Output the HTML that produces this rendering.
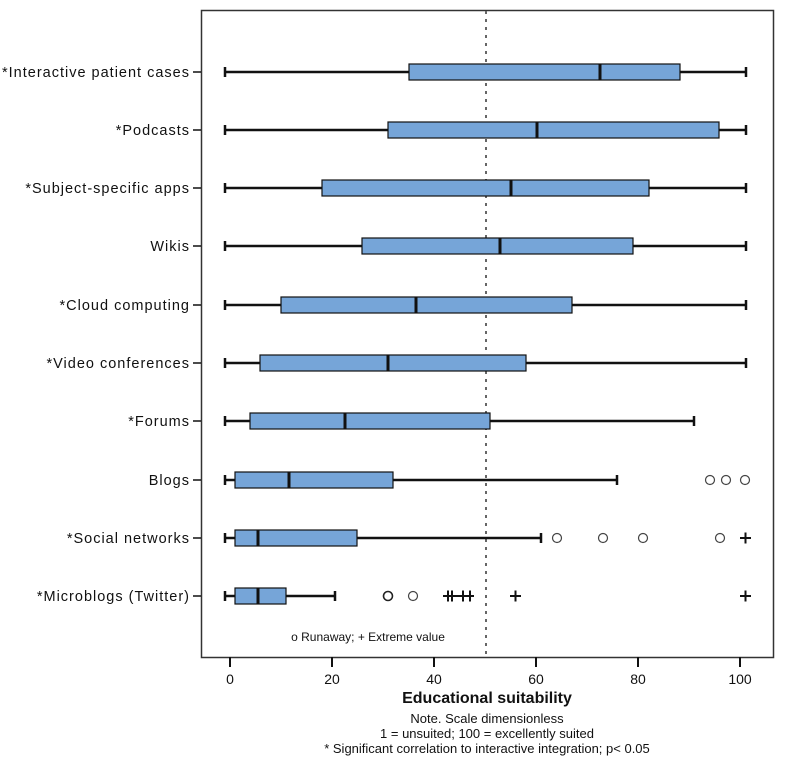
<!DOCTYPE html>
<html><head><meta charset="utf-8"><style>body{margin:0;background:#fff}</style></head><body>
<svg width="793" height="772" xmlns="http://www.w3.org/2000/svg" font-family="Liberation Sans, sans-serif">
<rect x="0" y="0" width="793" height="772" fill="#fff"/>
<rect x="201.5" y="10.5" width="572" height="647" fill="none" stroke="#333" stroke-width="1.5"/>
<line x1="486" y1="11" x2="486" y2="657" stroke="#666" stroke-width="2" stroke-dasharray="3,5"/>
<g stroke="#111" stroke-width="2">
<line x1="230" y1="657" x2="230" y2="667"/><line x1="332" y1="657" x2="332" y2="667"/><line x1="434" y1="657" x2="434" y2="667"/><line x1="536" y1="657" x2="536" y2="667"/><line x1="638" y1="657" x2="638" y2="667"/><line x1="740" y1="657" x2="740" y2="667"/>
</g>
<g font-size="14" fill="#111" text-anchor="middle">
<text x="230" y="684">0</text><text x="332" y="684">20</text><text x="434" y="684">40</text><text x="536" y="684">60</text><text x="638" y="684">80</text><text x="740" y="684">100</text>
</g>
<text x="487" y="703" font-size="16" font-weight="bold" text-anchor="middle" fill="#111">Educational suitability</text>
<g font-size="13" fill="#111" text-anchor="middle">
<text x="487" y="723">Note. Scale dimensionless</text>
<text x="487" y="738">1 = unsuited; 100 = excellently suited</text>
<text x="487" y="753">* Significant correlation to interactive integration; p&lt; 0.05</text>
</g>
<text x="368" y="641" font-size="12" text-anchor="middle" fill="#111">o Runaway; + Extreme value</text>
<g font-size="14.5" fill="#111" text-anchor="end" letter-spacing="1">
<text x="190" y="77">*Interactive patient cases</text>
<text x="190" y="135">*Podcasts</text>
<text x="190" y="193">*Subject-specific apps</text>
<text x="190" y="251">Wikis</text>
<text x="190" y="310">*Cloud computing</text>
<text x="190" y="368">*Video conferences</text>
<text x="190" y="426">*Forums</text>
<text x="190" y="485">Blogs</text>
<text x="190" y="543">*Social networks</text>
<text x="190" y="601">*Microblogs (Twitter)</text>
</g>
<g stroke="#111" stroke-width="1.5">
<line x1="193" y1="72" x2="201" y2="72"/><line x1="193" y1="130" x2="201" y2="130"/><line x1="193" y1="188" x2="201" y2="188"/><line x1="193" y1="246" x2="201" y2="246"/><line x1="193" y1="305" x2="201" y2="305"/><line x1="193" y1="363" x2="201" y2="363"/><line x1="193" y1="421" x2="201" y2="421"/><line x1="193" y1="480" x2="201" y2="480"/><line x1="193" y1="538" x2="201" y2="538"/><line x1="193" y1="596" x2="201" y2="596"/>
</g>
<g stroke="#111">
<g stroke-width="2.5"><line x1="225" y1="72" x2="746" y2="72"/><line x1="225" y1="67" x2="225" y2="77"/><line x1="746" y1="67" x2="746" y2="77"/></g>
<rect x="409" y="64" width="271" height="16" fill="#76a5d8" stroke-width="1.2"/><line x1="600" y1="64" x2="600" y2="80" stroke-width="3"/>
<g stroke-width="2.5"><line x1="225" y1="130" x2="746" y2="130"/><line x1="225" y1="125" x2="225" y2="135"/><line x1="746" y1="125" x2="746" y2="135"/></g>
<rect x="388" y="122" width="331" height="16" fill="#76a5d8" stroke-width="1.2"/><line x1="537" y1="122" x2="537" y2="138" stroke-width="3"/>
<g stroke-width="2.5"><line x1="225" y1="188" x2="746" y2="188"/><line x1="225" y1="183" x2="225" y2="193"/><line x1="746" y1="183" x2="746" y2="193"/></g>
<rect x="322" y="180" width="327" height="16" fill="#76a5d8" stroke-width="1.2"/><line x1="511" y1="180" x2="511" y2="196" stroke-width="3"/>
<g stroke-width="2.5"><line x1="225" y1="246" x2="746" y2="246"/><line x1="225" y1="241" x2="225" y2="251"/><line x1="746" y1="241" x2="746" y2="251"/></g>
<rect x="362" y="238" width="271" height="16" fill="#76a5d8" stroke-width="1.2"/><line x1="500" y1="238" x2="500" y2="254" stroke-width="3"/>
<g stroke-width="2.5"><line x1="225" y1="305" x2="746" y2="305"/><line x1="225" y1="300" x2="225" y2="310"/><line x1="746" y1="300" x2="746" y2="310"/></g>
<rect x="281" y="297" width="291" height="16" fill="#76a5d8" stroke-width="1.2"/><line x1="416" y1="297" x2="416" y2="313" stroke-width="3"/>
<g stroke-width="2.5"><line x1="225" y1="363" x2="746" y2="363"/><line x1="225" y1="358" x2="225" y2="368"/><line x1="746" y1="358" x2="746" y2="368"/></g>
<rect x="260" y="355" width="266" height="16" fill="#76a5d8" stroke-width="1.2"/><line x1="388" y1="355" x2="388" y2="371" stroke-width="3"/>
<g stroke-width="2.5"><line x1="225" y1="421" x2="694" y2="421"/><line x1="225" y1="416" x2="225" y2="426"/><line x1="694" y1="416" x2="694" y2="426"/></g>
<rect x="250" y="413" width="240" height="16" fill="#76a5d8" stroke-width="1.2"/><line x1="345" y1="413" x2="345" y2="429" stroke-width="3"/>
<g stroke-width="2.5"><line x1="225" y1="480" x2="617" y2="480"/><line x1="225" y1="475" x2="225" y2="485"/><line x1="617" y1="475" x2="617" y2="485"/></g>
<rect x="235" y="472" width="158" height="16" fill="#76a5d8" stroke-width="1.2"/><line x1="289" y1="472" x2="289" y2="488" stroke-width="3"/>
<g stroke-width="2.5"><line x1="225" y1="538" x2="541" y2="538"/><line x1="225" y1="533" x2="225" y2="543"/><line x1="541" y1="533" x2="541" y2="543"/></g>
<rect x="235" y="530" width="122" height="16" fill="#76a5d8" stroke-width="1.2"/><line x1="258" y1="530" x2="258" y2="546" stroke-width="3"/>
<g stroke-width="2.5"><line x1="225" y1="596" x2="335" y2="596"/><line x1="225" y1="591" x2="225" y2="601"/><line x1="335" y1="591" x2="335" y2="601"/></g>
<rect x="235" y="588" width="51" height="16" fill="#76a5d8" stroke-width="1.2"/><line x1="258" y1="588" x2="258" y2="604" stroke-width="3"/>
</g>
<g fill="none" stroke="#444" stroke-width="1.2">
<circle cx="710" cy="480" r="4.5"/><circle cx="726" cy="480" r="4.5"/><circle cx="745" cy="480" r="4.5"/>
<circle cx="557" cy="538" r="4.5"/><circle cx="603" cy="538" r="4.5"/><circle cx="643" cy="538" r="4.5"/><circle cx="720" cy="538" r="4.5"/>
<circle cx="388" cy="596" r="4.5" stroke="#222" stroke-width="1.6"/><circle cx="413" cy="596" r="4.5"/>
</g>
<g stroke="#111" stroke-width="2">
<path d="M740 538h11M745.5 532.5v11"/>
<path d="M740 596h11M745.5 590.5v11"/>
<path d="M510 596h11M515.5 590.5v11"/>
<path d="M443 596h31M448 590.5v11M452 590.5v11M463 590.5v11M470 590.5v11"/>
</g>
</svg>
</body></html>
